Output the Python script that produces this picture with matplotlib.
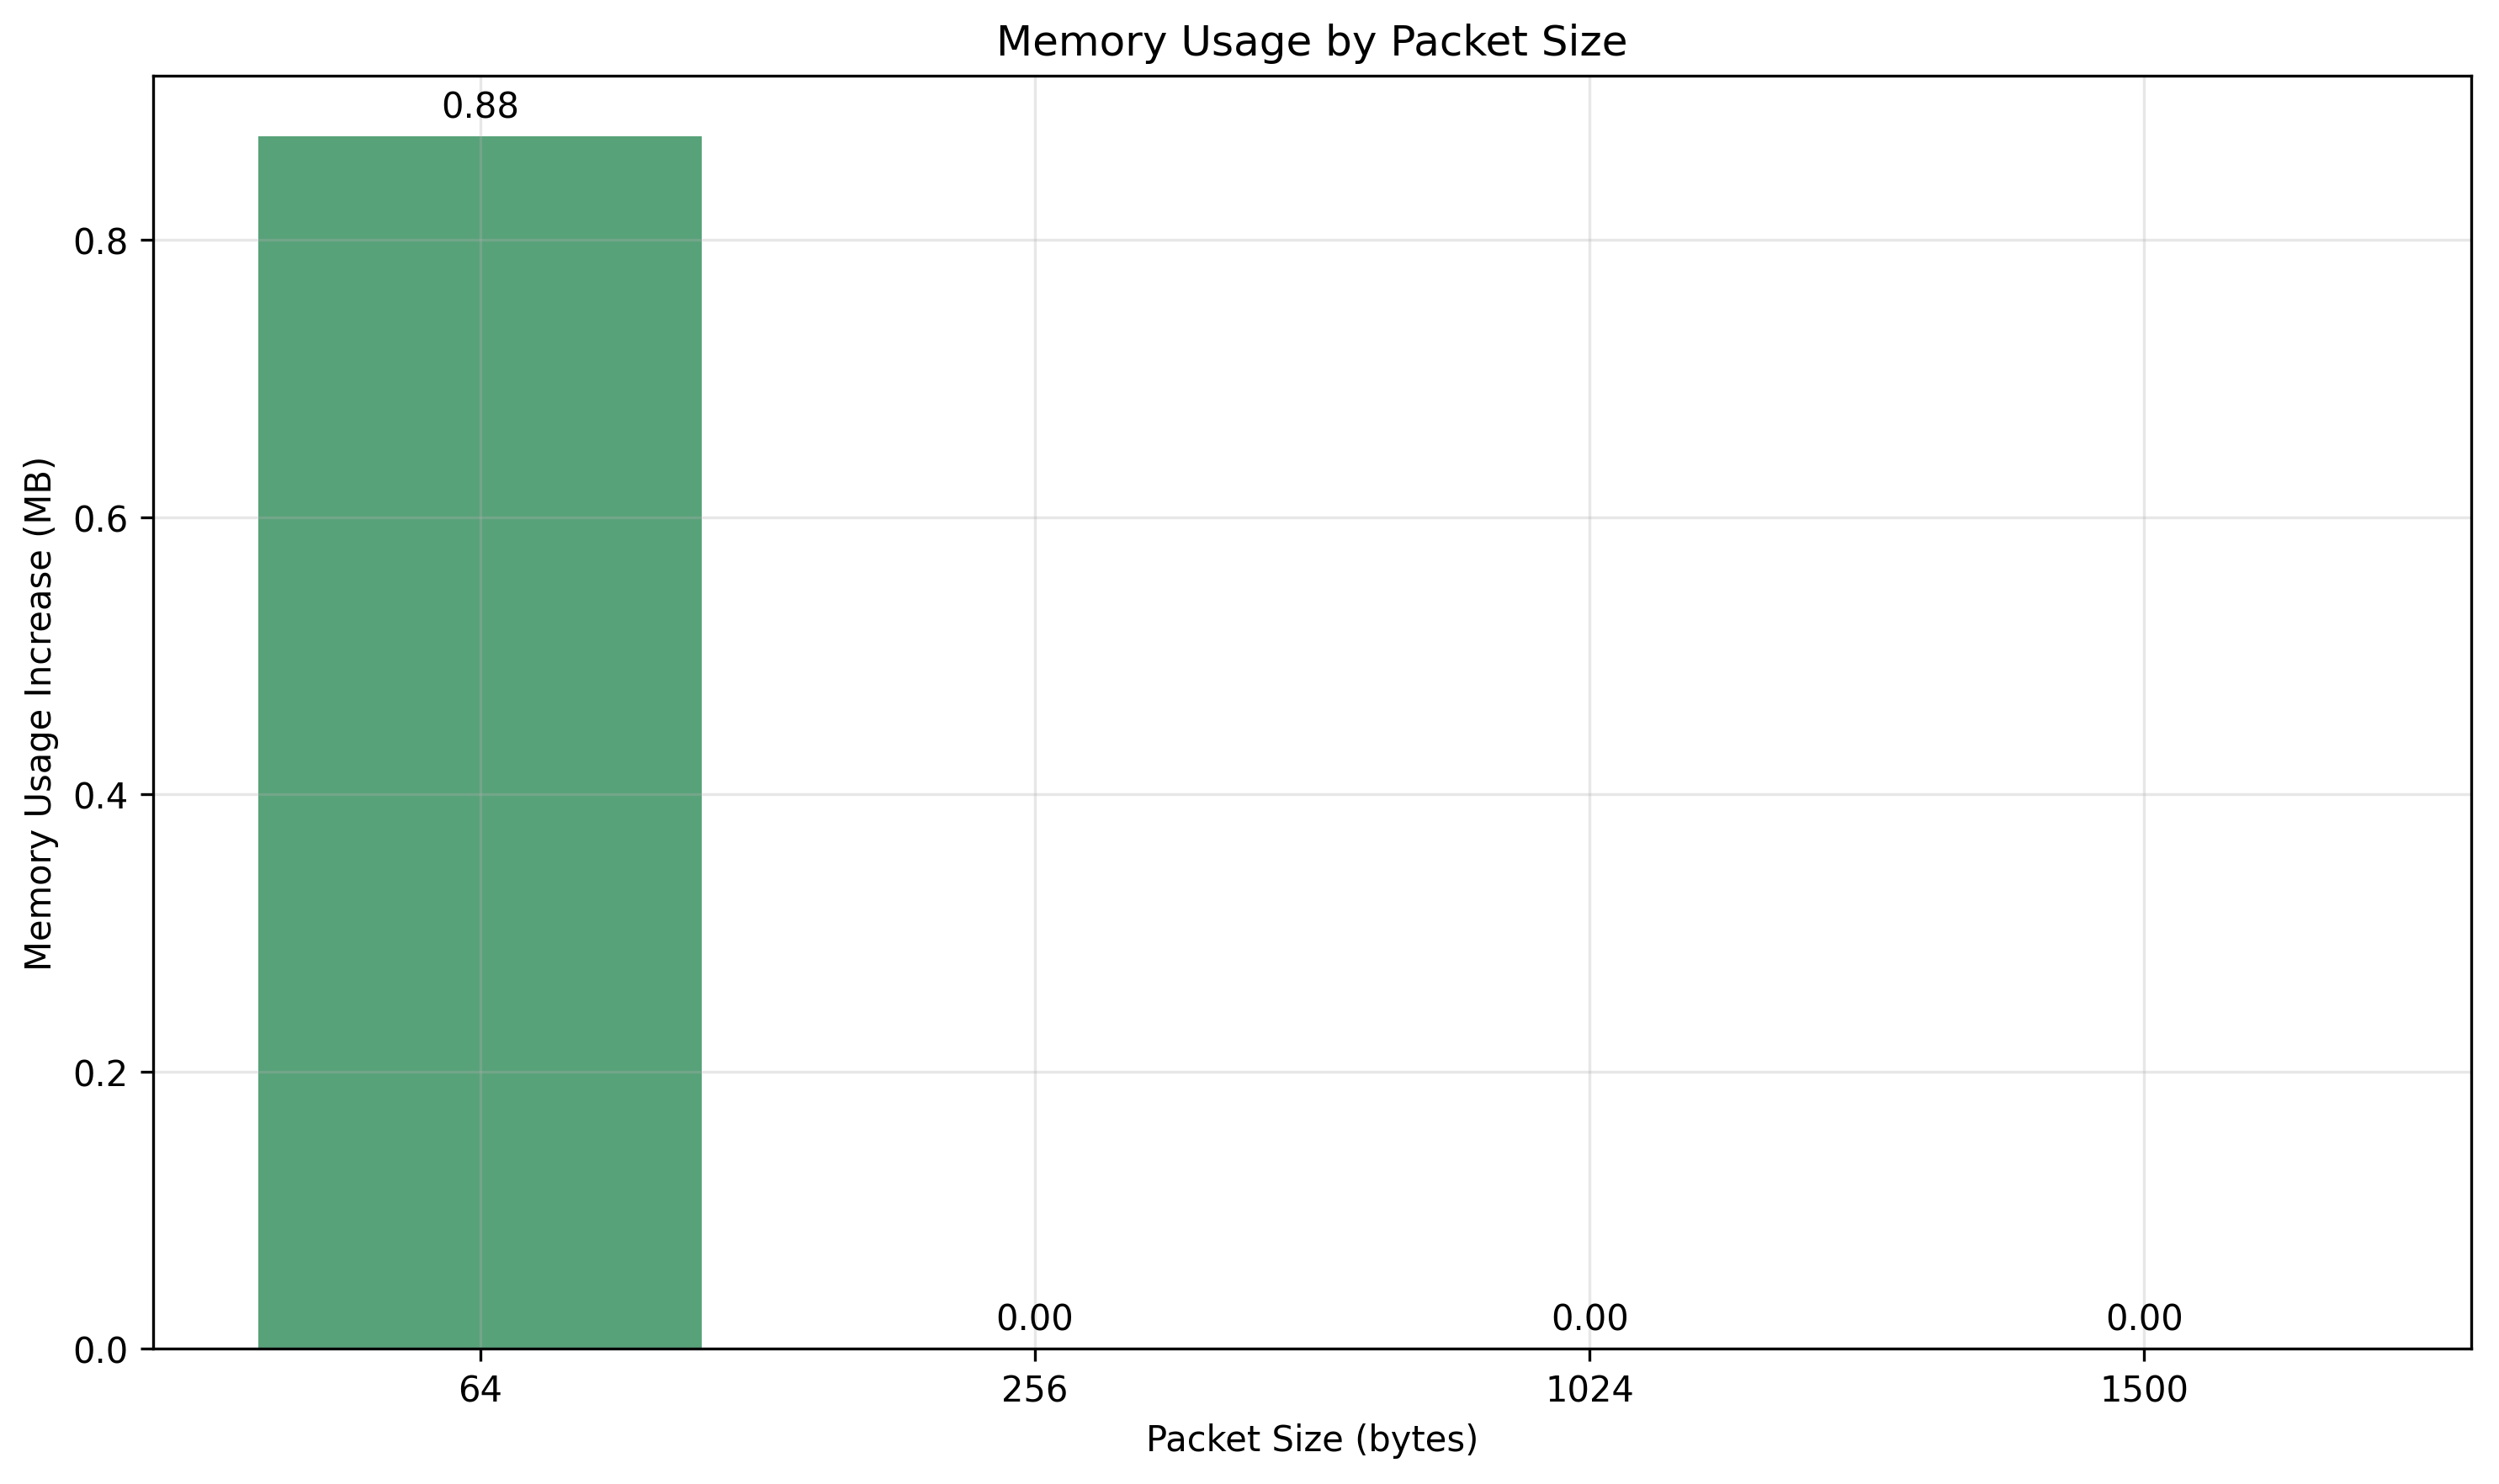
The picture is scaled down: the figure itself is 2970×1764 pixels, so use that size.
import matplotlib
matplotlib.use("Agg")
import matplotlib.pyplot as plt
import numpy as np

packet_sizes = ["64", "256", "1024", "1500"]
memory_increase = [0.875, 0.0, 0.0, 0.0]

fig, ax = plt.subplots(figsize=(9.9, 5.8833), dpi=300)
x = np.arange(len(packet_sizes))
bars = ax.bar(x, memory_increase, color="seagreen", alpha=0.8)

for b, v in zip(bars, memory_increase):
    ax.text(b.get_x() + b.get_width() / 2, b.get_height() + 0.008,
            f"{v:.2f}", ha="center", va="bottom", fontsize=10)

ax.set_xticks(x)
ax.set_xticklabels(packet_sizes)
ax.set_xlabel("Packet Size (bytes)")
ax.set_ylabel("Memory Usage Increase (MB)")
ax.set_title("Memory Usage by Packet Size")
ax.grid(True, alpha=0.3)

fig.subplots_adjust(left=0.0612, right=0.989, top=0.9485, bottom=0.0912)
fig.savefig("out.png", dpi=300)
